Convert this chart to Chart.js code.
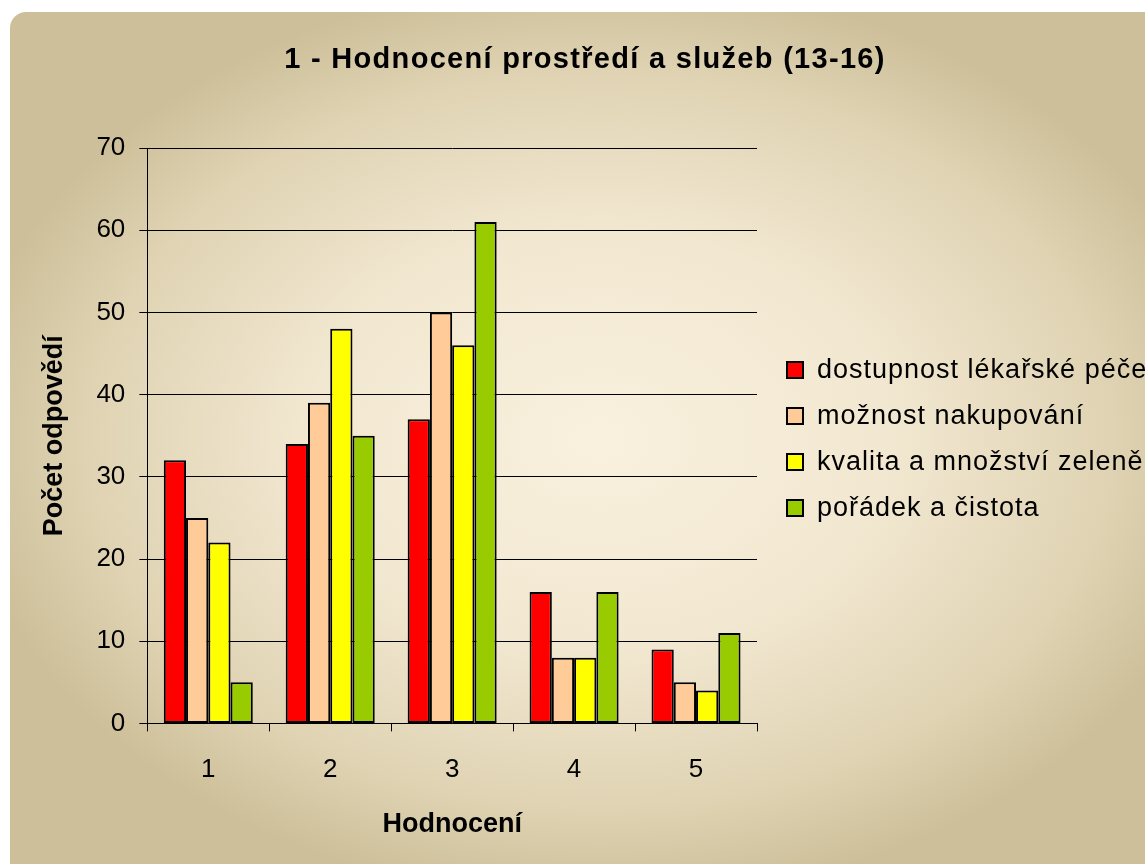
<!DOCTYPE html>
<html lang="cs">
<head>
<meta charset="utf-8">
<title>Hodnocení prostředí a služeb</title>
<script src="https://cdn.jsdelivr.net/npm/chart.js@4.4.1/dist/chart.umd.min.js"></script>
<style>
  html, body { margin: 0; padding: 0; background: #ffffff; overflow: hidden; }
  canvas { display: block; }
</style>
</head>
<body>
<canvas id="hodnoceniChart" width="1145" height="864"></canvas>
<script>
// Data grafu (počty odpovědí podle hodnocení)
const kategorie = ["1", "2", "3", "4", "5"];
const dostupnostPece = [32, 34, 37, 16, 9];
const moznostNakupovani = [25, 39, 50, 8, 5];
const kvalitaZelene = [22, 48, 46, 8, 4];
const poradekCistota = [5, 35, 61, 16, 11];

const nazvySerii = [
  "dostupnost lékařské péče",
  "možnost nakupování",
  "kvalita a množství zeleně",
  "pořádek a čistota",
];
const barvySerii = ["#ff0000", "#ffcc99", "#ffff00", "#99cc00"];
const nadpis = "1 - Hodnocení prostředí a služeb (13-16)";

const pismo = "Arial, 'Liberation Sans', sans-serif";

// Pozadí s jemným přechodem a zaobleným rohem
const pozadiPlugin = {
  id: "pozadi",
  beforeDraw(chart) {
    const ctx = chart.ctx;
    const w = chart.width;
    const h = chart.height;
    ctx.save();
    ctx.fillStyle = "#ffffff";
    ctx.fillRect(0, 0, w, h);

    ctx.beginPath();
    ctx.roundRect(10, 12, w + 20, h + 20, 16);
    ctx.clip();

    ctx.translate(600, 440);
    ctx.scale(1, 0.72);
    const grad = ctx.createRadialGradient(0, 0, 0, 0, 0, 640);
    grad.addColorStop(0, "#f9f0de");
    grad.addColorStop(0.45, "#f2e8d1");
    grad.addColorStop(0.8, "#dfd3b3");
    grad.addColorStop(1, "#cdbf99");
    ctx.fillStyle = grad;
    ctx.fillRect(-700, -800, 1400, 1600);
    ctx.restore();
  },
};

// Nadpis a legenda vpravo (text legendy přesahuje okraj jako v originále)
const popiskyPlugin = {
  id: "popisky",
  afterDraw(chart) {
    const ctx = chart.ctx;
    ctx.save();
    ctx.fillStyle = "#000000";
    ctx.font = "bold 29px " + pismo;
    ctx.textBaseline = "middle";
    ctx.textAlign = "center";
    ctx.letterSpacing = "1.3px";
    ctx.fillText(nadpis, 585, 60);

    ctx.font = "27px " + pismo;
    ctx.textAlign = "left";
    ctx.letterSpacing = "1px";
    chart.data.datasets.forEach((ds, i) => {
      const y = 370 + i * 46;
      ctx.fillStyle = ds.backgroundColor;
      ctx.fillRect(787, y - 8, 16, 16);
      ctx.strokeStyle = "#000000";
      ctx.lineWidth = 2;
      ctx.strokeRect(787, y - 8, 16, 16);
      ctx.fillStyle = "#000000";
      ctx.fillText(ds.label, 817, y + 1);
    });
    ctx.restore();
  },
};

const hodnoty = [dostupnostPece, moznostNakupovani, kvalitaZelene, poradekCistota];

const config = {
  type: "bar",
  data: {
    labels: kategorie,
    datasets: hodnoty.map((data, i) => ({
      label: nazvySerii[i],
      data: data,
      backgroundColor: barvySerii[i],
      borderColor: "#000000",
      borderWidth: 2,
      borderSkipped: false,
      categoryPercentage: 0.73,
      barPercentage: 1.0,
    })),
  },
  options: {
    responsive: false,
    animation: false,
    layout: {
      padding: { left: 10, right: 388, top: 148, bottom: 10 },
    },
    plugins: {
      legend: { display: false },
      tooltip: { enabled: false },
      title: { display: false },
    },
    scales: {
      x: {
        offset: true,
        grid: {
          offset: true,
          drawOnChartArea: false,
          drawTicks: true,
          tickLength: 8,
          color: "#000000",
        },
        border: { display: true, color: "#000000", width: 1 },
        ticks: {
          color: "#000000",
          font: { family: pismo, size: 26 },
          padding: 23,
        },
        title: {
          display: true,
          text: "Hodnocení",
          color: "#000000",
          font: { family: pismo, size: 27, weight: "bold" },
          padding: { top: 0, bottom: 13 },
        },
      },
      y: {
        min: 0,
        max: 70,
        grid: {
          color: "#000000",
          lineWidth: 1,
          drawTicks: true,
          tickLength: 8,
        },
        border: { display: true, color: "#000000", width: 1 },
        ticks: {
          stepSize: 10,
          color: "#000000",
          font: { family: pismo, size: 26 },
          padding: 14,
        },
        title: {
          display: true,
          text: "Počet odpovědí",
          color: "#000000",
          font: { family: pismo, size: 27, weight: "bold" },
          padding: { top: 28, bottom: 12 },
        },
      },
    },
  },
  plugins: [pozadiPlugin, popiskyPlugin],
};

document.addEventListener("DOMContentLoaded", () => {
  new Chart(document.getElementById("hodnoceniChart"), config);
});
</script>
</body>
</html>
